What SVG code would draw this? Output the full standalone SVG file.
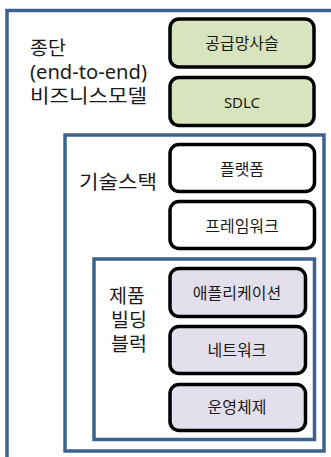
<svg xmlns="http://www.w3.org/2000/svg" width="331" height="457" viewBox="0 0 331 457">
<style>
.frame{fill:#ffffff;stroke:#3d6290;stroke-width:3.5}
.green{fill:#d7e4bd;stroke:#000000;stroke-width:3.5}
.purple{fill:#e4dfec;stroke:#000000;stroke-width:3.5}
.white{fill:#ffffff;stroke:#000000;stroke-width:3.5}
text{font-family:"Noto Sans","Noto Sans CJK KR",sans-serif;fill:#1a1a1a}
.lbl{font-size:16px;text-anchor:middle;dominant-baseline:central}
.big{font-size:19.5px}
</style>
<rect width="331" height="457" fill="#ffffff"/>
<g id="frame-business">
<rect class="frame" x="7" y="10.5" width="345" height="470"/>
<text class="big" x="30" y="55">종단</text>
<text class="big" x="30" y="79" textLength="117" lengthAdjust="spacingAndGlyphs">(end-to-end)</text>
<text class="big" x="30" y="103" textLength="117" lengthAdjust="spacingAndGlyphs">비즈니스모델</text>
</g>
<g id="node-supply"><rect class="green" x="170" y="19" width="144" height="48" rx="9"/><text class="lbl" x="242" y="43">공급망사슬</text></g>
<g id="node-sdlc"><rect class="green" x="170" y="77.5" width="144" height="48" rx="9"/><text class="lbl" x="242" y="102" style="font-size:15px">SDLC</text></g>
<g id="frame-tech">
<rect class="frame" x="65" y="135" width="259" height="316"/>
<text class="big" x="79" y="189" textLength="78" lengthAdjust="spacingAndGlyphs">기술스택</text>
</g>
<g id="node-platform"><rect class="white" x="170" y="144.5" width="144.5" height="47" rx="9"/><text class="lbl" x="242" y="169">플랫폼</text></g>
<g id="node-framework"><rect class="white" x="170" y="201.5" width="144.5" height="47" rx="9"/><text class="lbl" x="242" y="226">프레임워크</text></g>
<g id="frame-product">
<rect class="frame" x="94" y="259" width="220.5" height="180.5"/>
<text class="big" x="127" y="303" text-anchor="middle">제품</text>
<text class="big" x="129" y="327" text-anchor="middle">빌딩</text>
<text class="big" x="129" y="351" text-anchor="middle">블럭</text>
</g>
<g id="node-app"><rect class="purple" x="170" y="268.5" width="135.5" height="48" rx="9"/><text class="lbl" x="237" y="293">애플리케이션</text></g>
<g id="node-network"><rect class="purple" x="170" y="326.5" width="135.5" height="47" rx="9"/><text class="lbl" x="237" y="350">네트워크</text></g>
<g id="node-os"><rect class="purple" x="170" y="384.5" width="135.5" height="46" rx="9"/><text class="lbl" x="237" y="407">운영체제</text></g>
<g id="connectors"></g>
</svg>
